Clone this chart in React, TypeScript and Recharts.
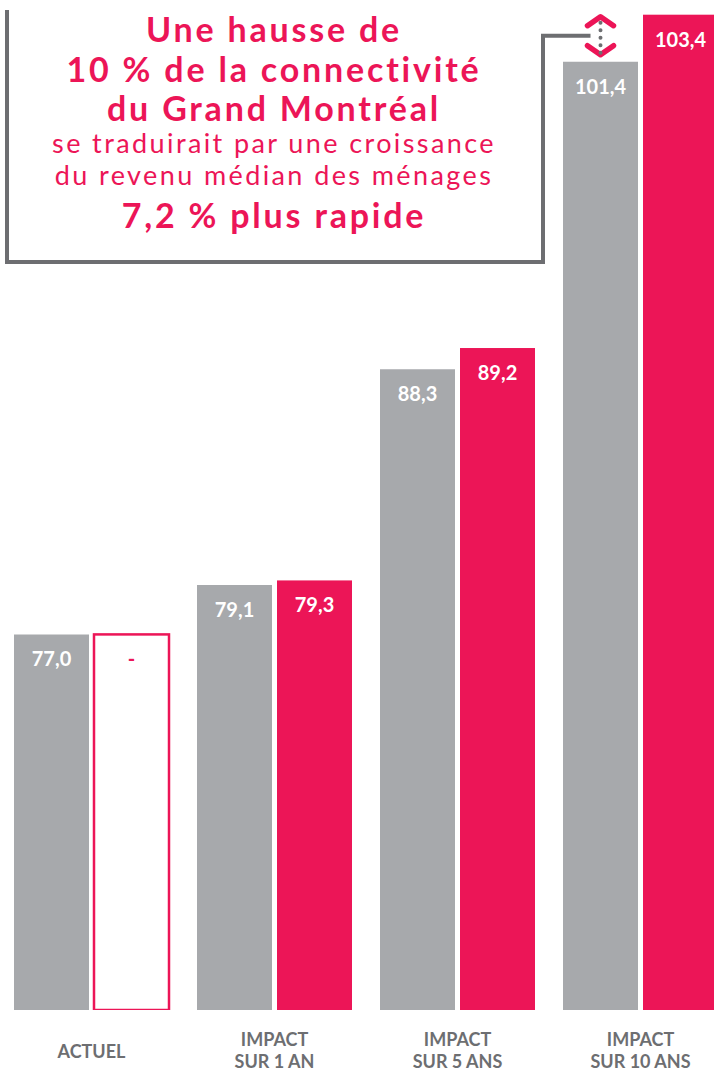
import React from 'react';
import { BarChart, Bar, XAxis, YAxis, Cell, LabelList } from 'recharts';

const categories = ['ACTUEL', 'IMPACT SUR 1 AN', 'IMPACT SUR 5 ANS', 'IMPACT SUR 10 ANS'];
const tickLines = [['ACTUEL'], ['IMPACT', 'SUR 1 AN'], ['IMPACT', 'SUR 5 ANS'], ['IMPACT', 'SUR 10 ANS']];
const actuelValues = [77.0, 79.1, 88.3, 101.4];
const connectValues: (number | null)[] = [null, 79.3, 89.2, 103.4];

const titleLines = [
  { text: 'Une hausse de', bold: true },
  { text: '10 % de la connectivité', bold: true },
  { text: 'du Grand Montréal', bold: true },
  { text: 'se traduirait par une croissance', bold: false },
  { text: 'du revenu médian des ménages', bold: false },
  { text: '7,2 % plus rapide', bold: true },
];

const GREY = '#a7a9ac';
const PINK = '#ec1557';
const DARK = '#6d6e71';
const Y_DOMAIN: [number, number] = [61, 103.6];
const BAR_GAP = 5;

const fmt = (v: number) => v.toFixed(1).replace('.', ',');

const data = categories.map((name, i) => ({
  name,
  actuel: actuelValues[i],
  // no impact yet for "actuel": the outlined bar repeats the current value
  connect: connectValues[i] ?? actuelValues[i],
  actuelLabel: fmt(actuelValues[i]),
  connectLabel: connectValues[i] == null ? '-' : fmt(connectValues[i] as number),
}));

const ValueLabel = (props: any) => {
  const { x, y, width, value } = props;
  return (
    <text
      x={x + width / 2}
      y={y + 32}
      textAnchor="middle"
      fill={value === '-' ? PINK : '#fff'}
      fontFamily="Lato"
      fontWeight={700}
      fontSize={20}
    >
      {value}
    </text>
  );
};

const PinkShape = (props: any) => {
  const { x, y, width, height, payload, index } = props;
  if (payload && connectValues[index] == null) {
    return <rect x={x} y={y} width={width} height={height} fill="#fff" stroke={PINK} strokeWidth={2.5} />;
  }
  const isLast = index === categories.length - 1;
  let extra = null;
  if (isLast) {
    const bottom = y + height;
    const greyTop = bottom - (height * (payload.actuel - Y_DOMAIN[0])) / (payload.connect - Y_DOMAIN[0]);
    const ax = x - BAR_GAP - width / 2;
    const topApex = y + 2;
    const botApex = greyTop - 7;
    const h = 9;
    const w = 13;
    const midY = (topApex + botApex) / 2;
    extra = (
      <g>
        <polyline
          points={`7,-5 7,262 543,262 543,${midY} ${ax - 10},${midY}`}
          fill="none"
          stroke={DARK}
          strokeWidth={4}
        />
        <polyline
          points={`${ax - w},${topApex + h} ${ax},${topApex} ${ax + w},${topApex + h}`}
          fill="none"
          stroke={PINK}
          strokeWidth={5.5}
          strokeLinecap="round"
          strokeLinejoin="round"
        />
        <polyline
          points={`${ax - w},${botApex - h} ${ax},${botApex} ${ax + w},${botApex - h}`}
          fill="none"
          stroke={PINK}
          strokeWidth={5.5}
          strokeLinecap="round"
          strokeLinejoin="round"
        />
        <line
          x1={ax}
          x2={ax}
          y1={topApex + 6}
          y2={botApex - 1}
          stroke={DARK}
          strokeWidth={4}
          strokeDasharray="0 7.5"
          strokeLinecap="round"
        />
      </g>
    );
  }
  return (
    <g>
      <rect x={x} y={y} width={width} height={height} fill={PINK} />
      {extra}
    </g>
  );
};

const CategoryTick = (props: any) => {
  const { x, y, index } = props;
  const lines = tickLines[index] || [];
  const baselines = lines.length === 1 ? [48] : [36, 58];
  return (
    <g>
      {lines.map((l, i) => (
        <text
          key={l}
          x={x}
          y={y + baselines[i]}
          textAnchor="middle"
          fill={DARK}
          fontFamily="Lato"
          fontWeight={700}
          fontSize={18}
        >
          {l}
        </text>
      ))}
    </g>
  );
};

const titleBaselines = [41.7, 81.7, 120.7, 153, 185, 228];

export default function App() {
  return (
    <div
      style={{
        position: 'absolute',
        left: 0,
        top: 0,
        width: 714,
        height: 1072,
        overflow: 'hidden',
        background: '#fff',
      }}
    >
      <BarChart
        width={732}
        height={1072}
        data={data}
        margin={{ top: 10, right: 0, left: 0, bottom: 0 }}
        barSize={75}
        barGap={BAR_GAP}
      >
        <XAxis
          dataKey="name"
          axisLine={false}
          tickLine={false}
          tickSize={0}
          tickMargin={0}
          height={62}
          interval={0}
          tick={<CategoryTick />}
        />
        <YAxis hide type="number" domain={Y_DOMAIN} allowDataOverflow />
        <Bar dataKey="actuel" fill={GREY} isAnimationActive={false}>
          {data.map((d) => (
            <Cell key={d.name} fill={GREY} />
          ))}
          <LabelList dataKey="actuelLabel" content={<ValueLabel />} />
        </Bar>
        <Bar dataKey="connect" fill={PINK} isAnimationActive={false} shape={<PinkShape />}>
          <LabelList dataKey="connectLabel" content={<ValueLabel />} />
        </Bar>
      </BarChart>
      <svg
        width={714}
        height={280}
        style={{ position: 'absolute', left: 0, top: 0, pointerEvents: 'none' }}
      >
        {titleLines.map((t, i) => (
          <text
            key={t.text}
            x={274}
            y={titleBaselines[i]}
            textAnchor="middle"
            fill={PINK}
            fontFamily="Lato"
            fontWeight={t.bold ? 700 : 400}
            fontSize={t.bold ? 34 : 27}
            letterSpacing={t.bold ? 2.8 : 2.4}
          >
            {t.text}
          </text>
        ))}
      </svg>
    </div>
  );
}
